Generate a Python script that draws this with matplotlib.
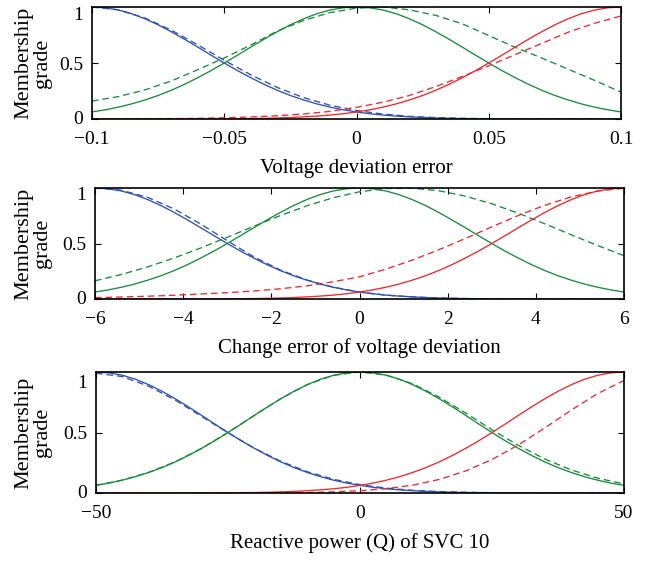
import matplotlib
matplotlib.use("Agg")
import matplotlib.pyplot as plt
import matplotlib.transforms as mtransforms

plt.rcParams["font.family"] = ["Liberation Serif", "DejaVu Serif"]
plt.rcParams["font.size"] = 14

# ==== Daten ====
# Stuetzstellen fuer die gestrichelten Kurven (21 Punkte)
x_volt = [-0.1, -0.09, -0.08, -0.07, -0.06, -0.05, -0.04, -0.03, -0.02, -0.01, 0.0,
          0.01, 0.02, 0.03, 0.04, 0.05, 0.06, 0.07, 0.08, 0.09, 0.1]
x_dvolt = [-6, -5.4, -4.8, -4.2, -3.6, -3.0, -2.4, -1.8, -1.2, -0.6, 0,
           0.6, 1.2, 1.8, 2.4, 3.0, 3.6, 4.2, 4.8, 5.4, 6]
x_q = [-50, -45, -40, -35, -30, -25, -20, -15, -10, -5, 0,
       5, 10, 15, 20, 25, 30, 35, 40, 45, 50]

# Stuetzstellen fuer die durchgezogenen Kurven (41 Punkte)
x_volt_s = [-0.1, -0.095, -0.09, -0.085, -0.08, -0.075, -0.07, -0.065, -0.06, -0.055,
            -0.05, -0.045, -0.04, -0.035, -0.03, -0.025, -0.02, -0.015, -0.01, -0.005,
            0.0, 0.005, 0.01, 0.015, 0.02, 0.025, 0.03, 0.035, 0.04, 0.045,
            0.05, 0.055, 0.06, 0.065, 0.07, 0.075, 0.08, 0.085, 0.09, 0.095, 0.1]
x_dvolt_s = [-6, -5.7, -5.4, -5.1, -4.8, -4.5, -4.2, -3.9, -3.6, -3.3,
             -3.0, -2.7, -2.4, -2.1, -1.8, -1.5, -1.2, -0.9, -0.6, -0.3,
             0, 0.3, 0.6, 0.9, 1.2, 1.5, 1.8, 2.1, 2.4, 2.7,
             3.0, 3.3, 3.6, 3.9, 4.2, 4.5, 4.8, 5.1, 5.4, 5.7, 6]
x_q_s = [-50, -47.5, -45, -42.5, -40, -37.5, -35, -32.5, -30, -27.5,
         -25, -22.5, -20, -17.5, -15, -12.5, -10, -7.5, -5, -2.5,
         0, 2.5, 5, 7.5, 10, 12.5, 15, 17.5, 20, 22.5,
         25, 27.5, 30, 32.5, 35, 37.5, 40, 42.5, 45, 47.5, 50]

# durchgezogene Kurven (in allen drei Diagrammen gleiche Form)
mf_low = [1.000, 0.993, 0.973, 0.940, 0.895, 0.841, 0.779, 0.712, 0.642, 0.570,
          0.500, 0.432, 0.369, 0.310, 0.257, 0.210, 0.170, 0.135, 0.106, 0.082,
          0.063, 0.047, 0.035, 0.026, 0.019, 0.013, 0.009, 0.006, 0.004, 0.003,
          0.002, 0.001, 0.001, 0.001, 0.000, 0.000, 0.000, 0.000, 0.000, 0.000, 0.000]
mf_mid = [0.063, 0.082, 0.106, 0.135, 0.170, 0.210, 0.257, 0.310, 0.369, 0.432,
          0.500, 0.570, 0.642, 0.712, 0.779, 0.841, 0.895, 0.940, 0.973, 0.993,
          1.000, 0.993, 0.973, 0.940, 0.895, 0.841, 0.779, 0.712, 0.642, 0.570,
          0.500, 0.432, 0.369, 0.310, 0.257, 0.210, 0.170, 0.135, 0.106, 0.082, 0.063]
mf_high = [0.000, 0.000, 0.000, 0.000, 0.000, 0.000, 0.000, 0.001, 0.001, 0.001,
           0.002, 0.003, 0.004, 0.006, 0.009, 0.013, 0.019, 0.026, 0.035, 0.047,
           0.063, 0.082, 0.106, 0.135, 0.170, 0.210, 0.257, 0.310, 0.369, 0.432,
           0.500, 0.570, 0.642, 0.712, 0.779, 0.841, 0.895, 0.940, 0.973, 0.993, 1.000]

# gestrichelte Kurven
volt_low_d = [1.000, 0.975, 0.902, 0.793, 0.662, 0.524, 0.395, 0.282, 0.191, 0.123, 0.076,
              0.044, 0.024, 0.013, 0.006, 0.003, 0.001, 0.001, 0.000, 0.000, 0.000]
volt_mid_d = [0.160, 0.200, 0.260, 0.340, 0.440, 0.545, 0.660, 0.785, 0.880, 0.950, 0.990,
              1.000, 0.975, 0.925, 0.850, 0.745, 0.640, 0.545, 0.445, 0.345, 0.240]
volt_high_d = [0.000, 0.001, 0.002, 0.004, 0.006, 0.011, 0.018, 0.029, 0.045, 0.068, 0.104,
               0.150, 0.210, 0.290, 0.380, 0.475, 0.575, 0.675, 0.775, 0.855, 0.920]

dvolt_low_d = [1.000, 0.980, 0.915, 0.810, 0.675, 0.525, 0.380, 0.262, 0.172, 0.107, 0.063,
               0.035, 0.019, 0.009, 0.004, 0.002, 0.001, 0.000, 0.000, 0.000, 0.000]
dvolt_mid_d = [0.164, 0.221, 0.290, 0.370, 0.460, 0.556, 0.655, 0.751, 0.839, 0.912, 0.966,
               0.995, 0.998, 0.975, 0.927, 0.858, 0.773, 0.678, 0.579, 0.482, 0.390]
dvolt_high_d = [0.012, 0.018, 0.025, 0.034, 0.045, 0.057, 0.072, 0.092, 0.118, 0.155, 0.200,
                0.269, 0.351, 0.444, 0.545, 0.650, 0.752, 0.844, 0.920, 0.972, 0.998]

q_low_d = [0.990, 0.962, 0.882, 0.768, 0.633, 0.497, 0.370, 0.262, 0.176, 0.113, 0.069,
           0.040, 0.022, 0.012, 0.006, 0.003, 0.001, 0.001, 0.000, 0.000, 0.000]
q_mid_d = [0.064, 0.107, 0.171, 0.258, 0.369, 0.501, 0.642, 0.780, 0.896, 0.973, 1.000,
           0.974, 0.902, 0.792, 0.661, 0.523, 0.394, 0.281, 0.191, 0.123, 0.075]
q_high_d = [0.000, 0.000, 0.000, 0.000, 0.000, 0.000, 0.001, 0.002, 0.004, 0.009, 0.019,
            0.036, 0.065, 0.112, 0.182, 0.277, 0.398, 0.538, 0.685, 0.822, 0.930]

xlabels = ["Voltage deviation error",
           "Change error of voltage deviation",
           "Reactive power (Q) of SVC 10"]
xticks_all = [[-0.1, -0.05, 0, 0.05, 0.1],
              [-6, -4, -2, 0, 2, 4, 6],
              [-50, 0, 50]]
xtick_labels = [["\u22120.1", "\u22120.05", "0", "0.05", "0.1"],
                ["\u22126", "\u22124", "\u22122", "0", "2", "4", "6"],
                ["\u221250", "0", "50"]]

BLUE = "#3050b0"
GREEN = "#1b8a3c"
RED = "#ea2a2e"

panels = [
    (x_volt_s, x_volt, volt_low_d, volt_mid_d, volt_high_d),
    (x_dvolt_s, x_dvolt, dvolt_low_d, dvolt_mid_d, dvolt_high_d),
    (x_q_s, x_q, q_low_d, q_mid_d, q_high_d),
]

# Achsenpositionen in Pixeln (links, oben, rechts, unten) -> Figure-Koordinaten
W, H = 648, 561
boxes = [(92, 7, 621, 119), (95, 188, 624, 299), (96, 372, 624, 493)]
label_y = [168, 348, 543]
one_shift = [6, 5, 9]

fig = plt.figure(figsize=(W / 100, H / 100), dpi=100)

for i, (xs, xd, lo_d, mi_d, hi_d) in enumerate(panels):
    l, t, r, b = boxes[i]
    ax = fig.add_axes([l / W, (H - b) / H, (r - l) / W, (b - t) / H])

    ax.plot(xs, mf_low, color=BLUE, lw=0.95)
    ax.plot(xd, lo_d, color=BLUE, lw=0.95, dashes=(5, 3))
    ax.plot(xs, mf_mid, color=GREEN, lw=0.95)
    ax.plot(xd, mi_d, color=GREEN, lw=0.95, dashes=(5, 3))
    ax.plot(xs, mf_high, color=RED, lw=0.95)
    ax.plot(xd, hi_d, color=RED, lw=0.95, dashes=(5, 3))

    ax.set_xlim(xs[0], xs[-1])
    ax.set_ylim(0, 1)
    ax.set_xticks(xticks_all[i])
    ax.set_xticklabels(xtick_labels[i])
    ax.set_yticks([0, 0.5, 1])
    ax.set_yticklabels(["0", "0.5", "1"])
    ax.tick_params(direction="in", top=True, right=True, length=4, width=0.8,
                   labelsize=14)
    ax.tick_params(axis="x", pad=8.5)
    ax.tick_params(axis="y", pad=6.5)
    for sp in ax.spines.values():
        sp.set_linewidth(1.2)

    # oberes Label "1" etwas tiefer, unteres "0" etwas hoeher wie im Original
    labs = ax.get_yticklabels()
    labs[-1].set_transform(labs[-1].get_transform() +
                           mtransforms.ScaledTranslation(0, -one_shift[i] / 100, fig.dpi_scale_trans))
    labs[0].set_transform(labs[0].get_transform() +
                          mtransforms.ScaledTranslation(0, 2 / 100, fig.dpi_scale_trans))

    ax.set_xlabel(xlabels[i], va="center", fontsize=15)
    ax.xaxis.set_label_coords(0.5, -(label_y[i] - b) / (b - t))
    ax.set_ylabel("Membership\ngrade", va="center", linespacing=0.95, fontsize=16)
    ax.yaxis.set_label_coords((33 - l) / (r - l), 0.5)

fig.savefig("out.png", dpi=100)
